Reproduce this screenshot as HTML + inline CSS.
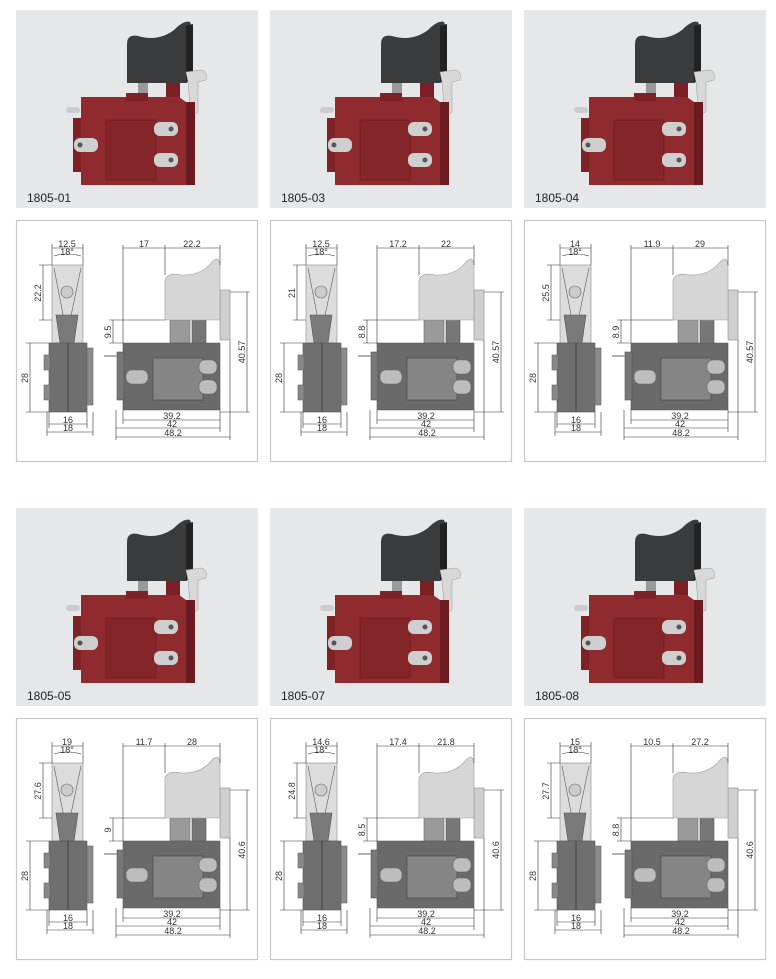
<!DOCTYPE html>
<html><head><meta charset="utf-8"><style>
html,body{margin:0;padding:0;background:#fff;}
svg{display:block;}
text{font-family:"Liberation Sans",sans-serif;}
</style></head><body>
<svg width="776" height="979" viewBox="0 0 776 979" xmlns="http://www.w3.org/2000/svg">
<defs>
<g id="photo">
<rect x="0" y="0" width="242" height="198" fill="#e6e7e8"/>
<rect x="122" y="73" width="10" height="16" fill="#9a9a9a"/>
<rect x="150" y="70" width="14" height="22" fill="#7a1f24"/>
<path d="M111,73 L111,34 Q111,24 122,26 Q142,32 158,20 Q168,10 174,12 L177,20 L177,68 L170,73 Z" fill="#3a3b3d"/>
<path d="M170,16 L177,14 L177,68 L170,73 Z" fill="#222"/>
<path d="M170,62 L186,60 Q192,62 190,70 L182,72 L182,102 L175,106 L172,72 Z" fill="#d8d8d8" stroke="#999" stroke-width="0.5"/>
<rect x="50" y="97" width="14" height="6" rx="3" fill="#ccc"/>
<rect x="57" y="108" width="10" height="54" fill="#7e2226"/>
<path d="M65,87 L163,87 L170,92 L170,175 L65,175 Z" fill="#8f2a2e"/>
<rect x="170" y="92" width="9" height="83" fill="#6c1c20"/>
<rect x="110" y="83" width="22" height="8" fill="#7e2226"/>
<rect x="90" y="110" width="50" height="60" fill="#832529" stroke="#6c1c20" stroke-width="0.6"/>
<rect x="58" y="128" width="24" height="14" rx="6" fill="#cfcfcf"/><circle cx="64" cy="135" r="2.5" fill="#555"/>
<rect x="138" y="112" width="24" height="14" rx="6" fill="#cfcfcf"/><circle cx="155" cy="119" r="2.5" fill="#555"/>
<rect x="138" y="143" width="24" height="14" rx="6" fill="#cfcfcf"/><circle cx="155" cy="150" r="2.5" fill="#555"/>
</g>
<g id="draw" fill="none" stroke="#333" stroke-width="0.6">
<rect x="0.5" y="0.5" width="241" height="241" fill="#fff" stroke="#c8c8c8" stroke-width="1.2"/>
<rect x="36" y="45" width="31" height="78" fill="#dcdcdc" stroke="#888"/>
<path d="M38,48 L50,110 M65,48 L52,110" stroke="#555"/>
<circle cx="51" cy="72" r="6" fill="#ccc" stroke="#666"/>
<path d="M40,95 L62,95 L58,123 L44,123 Z" fill="#7a7a7a" stroke="#555"/>
<rect x="33" y="123" width="38" height="69" fill="#6f6f6f" stroke="#555"/>
<rect x="71" y="128" width="6" height="57" fill="#8a8a8a" stroke="#666"/>
<rect x="28" y="135" width="6" height="15" fill="#888" stroke="#666"/>
<rect x="28" y="165" width="6" height="15" fill="#888" stroke="#666"/>
<line x1="52" y1="123" x2="52" y2="192" stroke="#222"/>
<rect x="204" y="70" width="10" height="50" fill="#cfcfcf" stroke="#888"/>
<rect x="154" y="100" width="20" height="23" fill="#9a9a9a" stroke="#666"/>
<rect x="176" y="98" width="14" height="26" fill="#777" stroke="#555"/>
<path d="M149,100 L149,60 Q152,52 165,55 Q185,56 196,42 Q203,35 204,45 L204,100 Z" fill="#d6d6d6" stroke="#999"/>
<path d="M107,123 L204,123 L204,190 L107,190 Z" fill="#6a6a6a" stroke="#555"/>
<rect x="101" y="132" width="7" height="48" fill="#777" stroke="#555"/>
<rect x="137" y="138" width="50" height="42" fill="#858585" stroke="#444"/>
<rect x="110" y="150" width="22" height="14" rx="6" fill="#bdbdbd" stroke="#666"/>
<rect x="183" y="140" width="18" height="14" rx="6" fill="#bdbdbd" stroke="#666"/>
<rect x="183" y="160" width="18" height="14" rx="6" fill="#bdbdbd" stroke="#666"/>
<line x1="88" y1="136" x2="101" y2="136" stroke="#999" stroke-width="1.5"/>
<path d="M36,24 V45 M67,24 V45 M36,28 H67 M38,36 Q51,32 65,36"/>
<path d="M23,45 H36 M23,100 H36 M27,45 V100"/>
<path d="M10,123 H33 M10,192 H33 M14,123 V192"/>
<path d="M93,100 H149 M93,123 H107 M97,100 V123"/>
<path d="M214,72 H234 M204,192 H234 M231,72 V192"/>
<path d="M33,192 V208 M71,192 V208 M31,192 V216 M77,192 V216 M33,204 H71 M31,212 H77"/>
<path d="M107,25 V123 M149,25 V55 M204,25 V45 M107,28 H204"/>
<path d="M107,190 V204 M204,190 V212 M100,190 V220 M214,120 V220 M107,200 H204 M100,208 H204 M100,217 H214"/>
</g>
</defs>
<g font-size="12" fill="#222">
<use href="#photo" x="16" y="10"/><text x="27" y="202">1805-01</text>
<use href="#photo" x="270" y="10"/><text x="281" y="202">1805-03</text>
<use href="#photo" x="524" y="10"/><text x="535" y="202">1805-04</text>
<use href="#photo" x="16" y="508"/><text x="27" y="700">1805-05</text>
<use href="#photo" x="270" y="508"/><text x="281" y="700">1805-07</text>
<use href="#photo" x="524" y="508"/><text x="535" y="700">1805-08</text>
</g>
<use href="#draw" x="16" y="220"/><use href="#draw" x="270" y="220"/><use href="#draw" x="524" y="220"/>
<use href="#draw" x="16" y="718"/><use href="#draw" x="270" y="718"/><use href="#draw" x="524" y="718"/>
<g font-size="9" fill="#333" text-anchor="middle">
<g transform="translate(16,220)"><text x="51" y="27">12.5</text><text x="51" y="35">18°</text><text transform="translate(25,73) rotate(-90)">22.2</text><text transform="translate(12,158) rotate(-90)">28</text><text transform="translate(95,112) rotate(-90)">9.5</text><text transform="translate(229,132) rotate(-90)">40.57</text><text x="128" y="27">17</text><text x="176" y="27">22.2</text><text x="52" y="203">16</text><text x="52" y="211">18</text><text x="156" y="199">39.2</text><text x="156" y="207">42</text><text x="157" y="216">48.2</text></g>
<g transform="translate(270,220)"><text x="51" y="27">12.5</text><text x="51" y="35">18°</text><text transform="translate(25,73) rotate(-90)">21</text><text transform="translate(12,158) rotate(-90)">28</text><text transform="translate(95,112) rotate(-90)">8.8</text><text transform="translate(229,132) rotate(-90)">40.57</text><text x="128" y="27">17.2</text><text x="176" y="27">22</text><text x="52" y="203">16</text><text x="52" y="211">18</text><text x="156" y="199">39.2</text><text x="156" y="207">42</text><text x="157" y="216">48.2</text></g>
<g transform="translate(524,220)"><text x="51" y="27">14</text><text x="51" y="35">18°</text><text transform="translate(25,73) rotate(-90)">25.5</text><text transform="translate(12,158) rotate(-90)">28</text><text transform="translate(95,112) rotate(-90)">8.9</text><text transform="translate(229,132) rotate(-90)">40.57</text><text x="128" y="27">11.9</text><text x="176" y="27">29</text><text x="52" y="203">16</text><text x="52" y="211">18</text><text x="156" y="199">39.2</text><text x="156" y="207">42</text><text x="157" y="216">48.2</text></g>
<g transform="translate(16,718)"><text x="51" y="27">19</text><text x="51" y="35">18°</text><text transform="translate(25,73) rotate(-90)">27.6</text><text transform="translate(12,158) rotate(-90)">28</text><text transform="translate(95,112) rotate(-90)">9</text><text transform="translate(229,132) rotate(-90)">40.6</text><text x="128" y="27">11.7</text><text x="176" y="27">28</text><text x="52" y="203">16</text><text x="52" y="211">18</text><text x="156" y="199">39.2</text><text x="156" y="207">42</text><text x="157" y="216">48.2</text></g>
<g transform="translate(270,718)"><text x="51" y="27">14.6</text><text x="51" y="35">18°</text><text transform="translate(25,73) rotate(-90)">24.8</text><text transform="translate(12,158) rotate(-90)">28</text><text transform="translate(95,112) rotate(-90)">8.5</text><text transform="translate(229,132) rotate(-90)">40.6</text><text x="128" y="27">17.4</text><text x="176" y="27">21.8</text><text x="52" y="203">16</text><text x="52" y="211">18</text><text x="156" y="199">39.2</text><text x="156" y="207">42</text><text x="157" y="216">48.2</text></g>
<g transform="translate(524,718)"><text x="51" y="27">15</text><text x="51" y="35">18°</text><text transform="translate(25,73) rotate(-90)">27.7</text><text transform="translate(12,158) rotate(-90)">28</text><text transform="translate(95,112) rotate(-90)">8.8</text><text transform="translate(229,132) rotate(-90)">40.6</text><text x="128" y="27">10.5</text><text x="176" y="27">27.2</text><text x="52" y="203">16</text><text x="52" y="211">18</text><text x="156" y="199">39.2</text><text x="156" y="207">42</text><text x="157" y="216">48.2</text></g>
</g>
</svg>
</body></html>
